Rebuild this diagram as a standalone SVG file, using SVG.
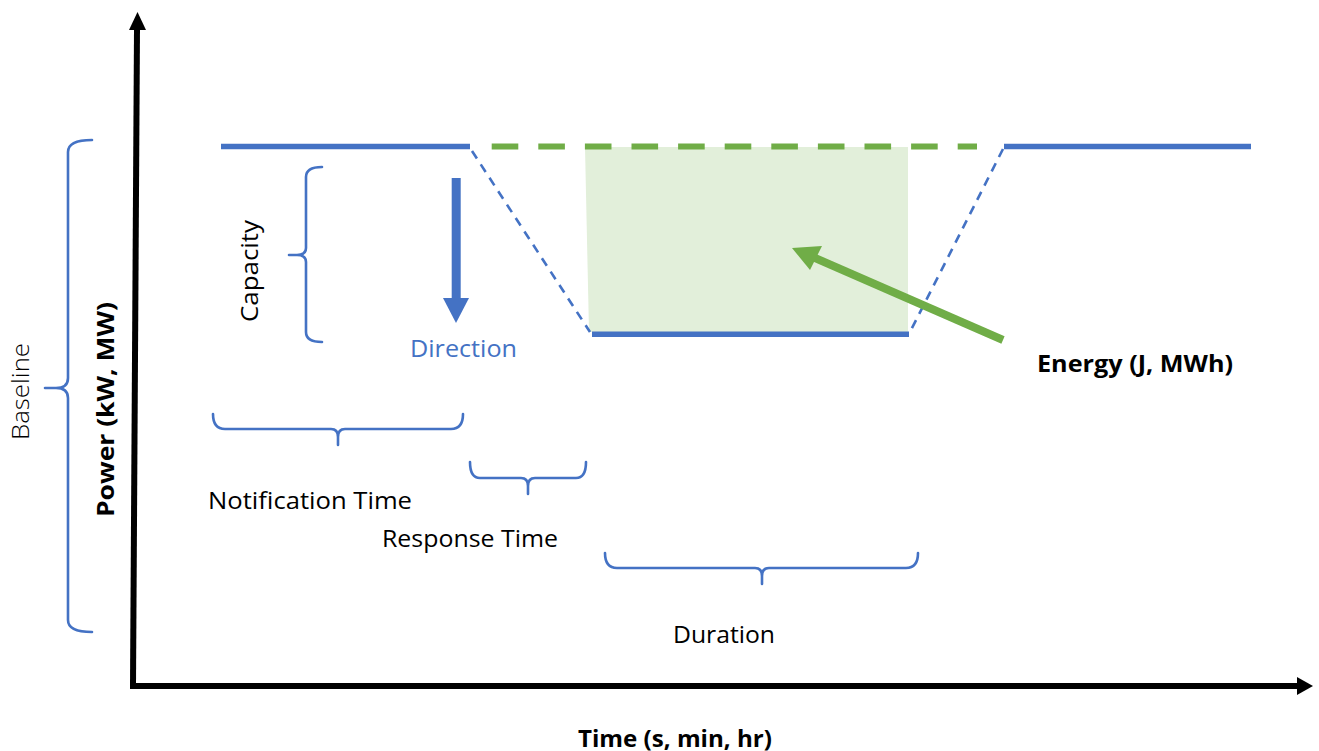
<svg xmlns="http://www.w3.org/2000/svg" width="1319" height="751" viewBox="0 0 1319 751">
<style>
.t{font-family:"Open Sans","Liberation Sans",sans-serif;font-size:24px;fill:#000}
.b{font-weight:bold}
.l{font-weight:300}
.blue{fill:#4472C4}
.br{fill:none;stroke:#4472C4;stroke-width:2.6;stroke-linecap:round;stroke-linejoin:round}
.sol{stroke:#4472C4;stroke-width:5.5;fill:none}
.dsh{stroke:#4472C4;stroke-width:2.6;stroke-dasharray:9 7;fill:none}
.gd{stroke:#70AD47;stroke-width:6;stroke-dasharray:26.6 20;fill:none}
</style>
<rect width="1319" height="751" fill="#fff"/>
<g id="energy-area">
<polygon points="585,147 908,147 908,332 589,332" fill="#E2EFDA"/>
</g>
<g id="profile">
<line class="gd" x1="491.7" y1="146.5" x2="977" y2="146.5"/>
<line class="sol" x1="221" y1="146.5" x2="470" y2="146.5"/>
<line class="sol" x1="1004" y1="146.5" x2="1251" y2="146.5"/>
<line class="dsh" x1="472" y1="151" x2="590" y2="332"/>
<line class="dsh" x1="1003" y1="149" x2="910" y2="332"/>
<line class="sol" x1="592" y1="334.3" x2="909" y2="334.3"/>
</g>
<g id="axes">
<line x1="133" y1="686" x2="137" y2="29" stroke="#000" stroke-width="6"/>
<polygon points="137.5,12 129,30 146,30" fill="#000"/>
<line x1="130" y1="686" x2="1298" y2="686" stroke="#000" stroke-width="6"/>
<polygon points="1297,677 1313,686 1297,695" fill="#000"/>
<text class="t b" transform="translate(114,409.5) rotate(-90)" text-anchor="middle" textLength="215" lengthAdjust="spacingAndGlyphs">Power (kW, MW)</text>
<text class="t b" x="578" y="746.5" textLength="194" lengthAdjust="spacingAndGlyphs">Time (s, min, hr)</text>
</g>
<g id="baseline">
<path class="br" d="M92,140 Q68,140 68,152 L68,378 Q68,388 56,388 L45,388 M56,388 Q68,388 68,398 L68,620 Q68,632 92,632"/>
<text class="t l" font-size="26" transform="translate(29,391.5) rotate(-90)" text-anchor="middle" textLength="97" lengthAdjust="spacingAndGlyphs">Baseline</text>
</g>
<g id="capacity">
<path class="br" d="M322,167 Q306,167 306,177 L306,248 Q306,255 297,255 L289,255 M297,255 Q306,255 306,262 L306,332 Q306,342 322,342"/>
<text class="t" transform="translate(258,271) rotate(-90)" text-anchor="middle" textLength="102" lengthAdjust="spacingAndGlyphs">Capacity</text>
</g>
<g id="direction">
<rect x="451.7" y="178" width="9" height="121" class="blue"/>
<polygon points="443,298 469,298 456,323" class="blue"/>
<text class="t" style="fill:#4472C4" x="410" y="357" textLength="107" lengthAdjust="spacingAndGlyphs">Direction</text>
</g>
<g id="notification">
<path class="br" d="M213,414 Q213,429 225,429 L331,429 Q338,429 338,437 L338,445 M338,437 Q338,429 345,429 L451,429 Q463,429 463,414"/>
<text class="t" x="208" y="509" textLength="204" lengthAdjust="spacingAndGlyphs">Notification Time</text>
</g>
<g id="response">
<path class="br" d="M470,462 Q470,478 480,478 L521,478 Q528,478 528,486 L528,494 M528,486 Q528,478 535,478 L576,478 Q586,478 586,462"/>
<text class="t" x="382" y="547" textLength="176" lengthAdjust="spacingAndGlyphs">Response Time</text>
</g>
<g id="duration">
<path class="br" d="M605,553 Q605,568 617,568 L755,568 Q762,568 762,576 L762,584 M762,576 Q762,568 769,568 L906,568 Q918,568 918,553"/>
<text class="t" x="673" y="643" textLength="102" lengthAdjust="spacingAndGlyphs">Duration</text>
</g>
<g id="energy">
<line x1="1003" y1="340" x2="814" y2="257.5" stroke="#70AD47" stroke-width="8"/>
<polygon points="792,248 822,246 810,270" fill="#70AD47"/>
<text class="t b" x="1037" y="372" textLength="196" lengthAdjust="spacingAndGlyphs">Energy (J, MWh)</text>
</g>
</svg>
